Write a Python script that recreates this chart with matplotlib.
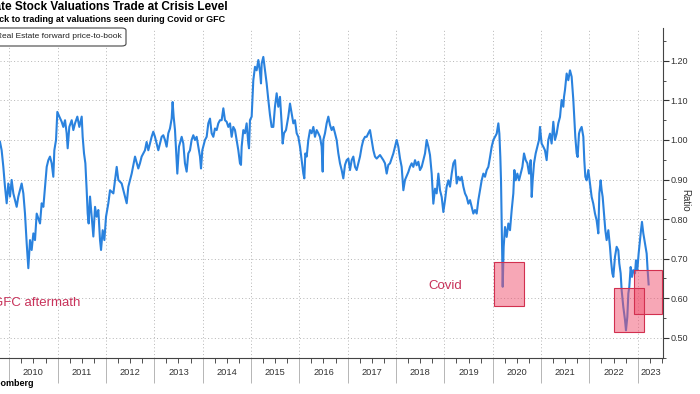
import matplotlib
matplotlib.use('Agg')
import matplotlib.pyplot as plt
from matplotlib.patches import Rectangle, FancyBboxPatch
from matplotlib.ticker import MultipleLocator, FixedLocator
import matplotlib.transforms as mtransforms

plt.rcParams['font.family'] = ['Liberation Sans', 'DejaVu Sans']

# Real Estate forward price-to-book (decimal year, ratio)
years = [
    2009.808, 2009.842, 2009.877, 2009.911, 2009.946, 2009.980, 2010.015, 2010.049, 2010.084, 2010.153,
    2010.187, 2010.256, 2010.291, 2010.325, 2010.360, 2010.394, 2010.429, 2010.463, 2010.498, 2010.532,
    2010.567, 2010.636, 2010.670, 2010.705, 2010.739, 2010.774, 2010.808, 2010.842, 2010.877, 2010.911,
    2010.932, 2010.967, 2010.994, 2011.036, 2011.084, 2011.118, 2011.153, 2011.187, 2011.208, 2011.242,
    2011.291, 2011.325, 2011.360, 2011.408, 2011.449, 2011.498, 2011.518, 2011.546, 2011.574, 2011.601,
    2011.622, 2011.642, 2011.670, 2011.705, 2011.739, 2011.774, 2011.808, 2011.842, 2011.877, 2011.898,
    2011.932, 2011.967, 2012.001, 2012.049, 2012.084, 2012.153, 2012.222, 2012.256, 2012.325, 2012.394,
    2012.429, 2012.463, 2012.532, 2012.601, 2012.669, 2012.703, 2012.738, 2012.807, 2012.841, 2012.876,
    2012.945, 2012.979, 2013.014, 2013.083, 2013.117, 2013.152, 2013.186, 2013.221, 2013.255, 2013.290,
    2013.324, 2013.359, 2013.379, 2013.400, 2013.428, 2013.462, 2013.476, 2013.510, 2013.566, 2013.600,
    2013.634, 2013.669, 2013.703, 2013.738, 2013.772, 2013.807, 2013.841, 2013.876, 2013.910, 2013.945,
    2013.966, 2013.993, 2014.048, 2014.083, 2014.117, 2014.152, 2014.186, 2014.221, 2014.255, 2014.290,
    2014.324, 2014.359, 2014.393, 2014.428, 2014.462, 2014.497, 2014.531, 2014.566, 2014.600, 2014.634,
    2014.669, 2014.703, 2014.738, 2014.772, 2014.793, 2014.807, 2014.841, 2014.876, 2014.910, 2014.945,
    2014.959, 2014.979, 2015.014, 2015.048, 2015.083, 2015.117, 2015.152, 2015.186, 2015.207, 2015.221,
    2015.255, 2015.290, 2015.324, 2015.359, 2015.393, 2015.427, 2015.462, 2015.496, 2015.531, 2015.565,
    2015.600, 2015.634, 2015.655, 2015.683, 2015.724, 2015.772, 2015.807, 2015.841, 2015.876, 2015.910,
    2015.945, 2015.979, 2016.014, 2016.048, 2016.083, 2016.103, 2016.124, 2016.152, 2016.186, 2016.221,
    2016.255, 2016.290, 2016.324, 2016.359, 2016.393, 2016.427, 2016.462, 2016.483, 2016.496, 2016.531,
    2016.565, 2016.600, 2016.634, 2016.669, 2016.703, 2016.738, 2016.772, 2016.807, 2016.841, 2016.876,
    2016.910, 2016.945, 2016.979, 2017.014, 2017.048, 2017.083, 2017.117, 2017.152, 2017.186, 2017.221,
    2017.255, 2017.290, 2017.324, 2017.359, 2017.393, 2017.427, 2017.462, 2017.496, 2017.531, 2017.565,
    2017.600, 2017.669, 2017.738, 2017.772, 2017.807, 2017.841, 2017.876, 2017.910, 2017.945, 2017.979,
    2018.014, 2018.048, 2018.083, 2018.117, 2018.152, 2018.186, 2018.255, 2018.289, 2018.324, 2018.358,
    2018.393, 2018.427, 2018.462, 2018.496, 2018.531, 2018.565, 2018.600, 2018.634, 2018.669, 2018.703,
    2018.738, 2018.772, 2018.807, 2018.841, 2018.876, 2018.910, 2018.945, 2018.979, 2019.014, 2019.048,
    2019.083, 2019.117, 2019.152, 2019.186, 2019.221, 2019.255, 2019.289, 2019.324, 2019.358, 2019.393,
    2019.427, 2019.462, 2019.496, 2019.531, 2019.565, 2019.600, 2019.634, 2019.669, 2019.703, 2019.738,
    2019.772, 2019.807, 2019.841, 2019.876, 2019.910, 2019.945, 2019.979, 2020.014, 2020.048, 2020.083,
    2020.117, 2020.138, 2020.158, 2020.172, 2020.186, 2020.207, 2020.227, 2020.255, 2020.289, 2020.324,
    2020.358, 2020.393, 2020.427, 2020.448, 2020.476, 2020.510, 2020.545, 2020.579, 2020.614, 2020.648,
    2020.683, 2020.717, 2020.752, 2020.786, 2020.807, 2020.827, 2020.855, 2020.889, 2020.924, 2020.958,
    2020.979, 2021.012, 2021.047, 2021.081, 2021.116, 2021.150, 2021.185, 2021.219, 2021.254, 2021.288,
    2021.323, 2021.357, 2021.392, 2021.426, 2021.461, 2021.475, 2021.495, 2021.530, 2021.564, 2021.599,
    2021.633, 2021.668, 2021.688, 2021.709, 2021.737, 2021.757, 2021.785, 2021.806, 2021.840, 2021.875,
    2021.895, 2021.916, 2021.944, 2021.978, 2022.012, 2022.047, 2022.081, 2022.116, 2022.150, 2022.185,
    2022.206, 2022.233, 2022.254, 2022.275, 2022.302, 2022.330, 2022.357, 2022.392, 2022.426, 2022.447,
    2022.475, 2022.495, 2022.530, 2022.564, 2022.599, 2022.619, 2022.647, 2022.668, 2022.702, 2022.737,
    2022.757, 2022.785, 2022.806, 2022.826, 2022.854, 2022.882, 2022.909, 2022.944, 2022.964, 2022.992,
    2023.019, 2023.047, 2023.068, 2023.088, 2023.116, 2023.150, 2023.185, 2023.205, 2023.226,
]
ratio = [
    0.995, 0.974, 0.932, 0.882, 0.840, 0.890, 0.857, 0.899, 0.865, 0.831,
    0.857, 0.890, 0.865, 0.814, 0.739, 0.676, 0.747, 0.722, 0.764, 0.747,
    0.814, 0.789, 0.840, 0.831, 0.882, 0.932, 0.949, 0.958, 0.941, 0.907,
    0.974, 1.000, 1.071, 1.059, 1.046, 1.033, 1.050, 1.017, 0.979, 1.033,
    1.050, 1.025, 1.042, 1.059, 1.033, 1.059, 1.008, 0.966, 0.941, 0.873,
    0.814, 0.789, 0.857, 0.806, 0.756, 0.831, 0.806, 0.823, 0.747, 0.722,
    0.772, 0.747, 0.806, 0.840, 0.873, 0.865, 0.932, 0.899, 0.890, 0.857,
    0.840, 0.882, 0.915, 0.958, 0.928, 0.941, 0.958, 0.974, 0.995, 0.974,
    1.008, 1.021, 1.008, 0.974, 0.991, 1.008, 1.012, 1.000, 0.983, 1.017,
    1.029, 1.054, 1.096, 1.059, 1.025, 0.949, 0.915, 0.983, 1.008, 0.991,
    0.941, 0.920, 0.966, 0.974, 1.000, 1.012, 1.000, 1.008, 0.983, 0.958,
    0.928, 0.974, 1.000, 1.008, 1.042, 1.054, 1.017, 1.008, 1.029, 1.025,
    1.042, 1.050, 1.050, 1.080, 1.050, 1.046, 1.033, 1.042, 1.008, 1.033,
    1.025, 1.000, 0.974, 0.941, 0.937, 0.983, 1.025, 1.017, 1.042, 0.991,
    0.979, 1.050, 1.059, 1.151, 1.185, 1.176, 1.202, 1.172, 1.143, 1.193,
    1.210, 1.176, 1.143, 1.101, 1.063, 1.033, 1.033, 1.084, 1.118, 1.084,
    1.109, 1.042, 0.991, 1.017, 1.025, 1.059, 1.092, 1.067, 1.042, 1.050,
    1.017, 1.008, 0.983, 0.949, 0.915, 0.903, 0.966, 0.958, 1.000, 1.025,
    1.017, 1.033, 1.008, 1.025, 1.017, 1.008, 0.983, 0.920, 1.000, 1.017,
    1.042, 1.059, 1.038, 1.025, 1.033, 1.017, 1.000, 0.966, 0.941, 0.924,
    0.903, 0.937, 0.949, 0.953, 0.924, 0.949, 0.958, 0.932, 0.924, 0.941,
    0.958, 0.983, 1.000, 1.008, 1.008, 1.017, 1.025, 1.000, 0.974, 0.958,
    0.953, 0.962, 0.949, 0.941, 0.915, 0.937, 0.941, 0.953, 0.966, 0.983,
    1.000, 0.983, 0.953, 0.932, 0.873, 0.899, 0.919, 0.932, 0.941, 0.932,
    0.949, 0.936, 0.945, 0.924, 0.932, 0.949, 0.966, 1.000, 0.983, 0.962,
    0.915, 0.839, 0.877, 0.865, 0.915, 0.873, 0.856, 0.818, 0.848, 0.882,
    0.898, 0.882, 0.915, 0.941, 0.949, 0.890, 0.907, 0.898, 0.907, 0.882,
    0.865, 0.856, 0.839, 0.848, 0.831, 0.814, 0.823, 0.814, 0.848, 0.873,
    0.898, 0.915, 0.907, 0.924, 0.932, 0.957, 0.983, 1.000, 1.008, 1.016,
    1.042, 1.016, 0.957, 0.898, 0.789, 0.629, 0.730, 0.780, 0.755, 0.789,
    0.772, 0.823, 0.865, 0.924, 0.898, 0.915, 0.898, 0.915, 0.932, 0.966,
    0.949, 0.941, 0.915, 0.949, 0.856, 0.898, 0.941, 0.966, 0.983, 1.000,
    1.033, 0.991, 0.983, 0.974, 0.949, 1.000, 1.016, 0.991, 1.046, 1.000,
    1.016, 1.042, 1.058, 1.101, 1.084, 1.109, 1.126, 1.168, 1.151, 1.176,
    1.160, 1.101, 1.058, 1.008, 0.966, 0.957, 1.016, 1.025, 1.033, 1.008,
    0.949, 0.907, 0.898, 0.924, 0.890, 0.856, 0.839, 0.814, 0.797, 0.764,
    0.865, 0.898, 0.873, 0.856, 0.814, 0.772, 0.747, 0.772, 0.730, 0.696,
    0.663, 0.654, 0.705, 0.730, 0.721, 0.688, 0.663, 0.620, 0.578, 0.545,
    0.519, 0.553, 0.612, 0.629, 0.679, 0.654, 0.671, 0.663, 0.696, 0.671,
    0.713, 0.747, 0.772, 0.793, 0.764, 0.738, 0.713, 0.671, 0.635,
]

# highlighted crisis windows: (start, end, low, high)
covid_box = (2020.026, 2020.647, 0.581, 0.692)
low_2022_box = (2022.509, 2023.130, 0.515, 0.626)
now_2023_box = (2022.923, 2023.502, 0.560, 0.671)

year_ticks = list(range(2010, 2024))
x_min, x_max = 2009.808, 2023.523
y_min, y_max = 0.449, 1.283

blue = '#2a82de'
crimson = '#c8325a'
grey = '#333333'

fig = plt.figure(figsize=(7, 3.94), dpi=100)
ax = fig.add_axes([0.0, 36 / 394, 663 / 700, 330 / 394])

ax.plot(years, ratio, color=blue, linewidth=1.5, zorder=3)

for x0, x1, y0, y1 in [covid_box, low_2022_box, now_2023_box]:
    ax.add_patch(Rectangle((x0, y0), x1 - x0, y1 - y0, facecolor='#f0506e', alpha=0.5,
                           edgecolor='none', zorder=4))
    ax.add_patch(Rectangle((x0, y0), x1 - x0, y1 - y0, facecolor='none',
                           edgecolor='#d2304f', linewidth=0.8, zorder=5))

ax.text(2019.01, 0.631, 'Covid', color=crimson, fontsize=9.5, ha='center', va='center')
ax.text(2011.463, 0.588, 'GFC aftermath', color=crimson, fontsize=9.5, ha='right', va='center')

ax.set_xlim(x_min, x_max)
ax.set_ylim(y_min, y_max)

# axes styling
for s in ['left', 'top']:
    ax.spines[s].set_visible(False)
ax.spines['right'].set_color('#444444')
ax.spines['bottom'].set_color('#444444')
ax.spines['right'].set_linewidth(0.8)
ax.spines['bottom'].set_linewidth(0.8)

ax.yaxis.tick_right()
ax.yaxis.set_major_locator(MultipleLocator(0.1))
ax.yaxis.set_minor_locator(MultipleLocator(0.05))
ax.yaxis.set_major_formatter(lambda v, p: f'{v:.2f}')
ax.tick_params(axis='y', which='major', length=4, width=0.8, color=grey, labelsize=6.5,
               labelcolor=grey, pad=1.5)
ax.tick_params(axis='y', which='minor', length=2, width=0.6, color=grey)

ax.xaxis.set_major_locator(FixedLocator(year_ticks))
ax.xaxis.set_minor_locator(FixedLocator([y + q / 4 for y in range(2009, 2024) for q in (1, 2, 3)]))
ax.tick_params(axis='x', which='major', length=18, width=0.6, color='#aaaaaa', labelbottom=False)
ax.tick_params(axis='x', which='minor', length=3.5, width=0.6, color=grey)

ax.grid(which='major', axis='both', color='#b5b5b5', linestyle=(0, (1, 2.5)), linewidth=0.7)
ax.set_axisbelow(True)

# year labels in the middle of each year
trans = mtransforms.blended_transform_factory(ax.transData, ax.transAxes)
for y in year_ticks:
    mid = min(y + 0.5, (y + x_max) / 2)
    ax.text(mid, -0.045, str(y), transform=trans, ha='center', va='center',
            fontsize=6.7, color=grey)

ax.set_ylabel('Ratio', rotation=270, fontsize=7, color=grey)
ax.yaxis.set_label_position('right')
ax.yaxis.set_label_coords(1.041, 0.479)

# titles (left part falls off the canvas, like the reference crop)
fig.text(228 / 700, 1 - 7.5 / 394, 'Real Estate Stock Valuations Trade at Crisis Level',
         ha='right', va='center', fontsize=8.5, fontweight='bold', color='black')
fig.text(225 / 700, 1 - 19 / 394, 'Sector is back to trading at valuations seen during Covid or GFC',
         ha='right', va='center', fontsize=6.5, fontweight='bold', color='black')

# legend box
fig.patches.append(FancyBboxPatch((-20 / 700, 1 - 46 / 394), 146 / 700, 18 / 394,
                                  boxstyle='round,pad=0,rounding_size=0.006',
                                  transform=fig.transFigure, facecolor='white',
                                  edgecolor='#444444', linewidth=0.8, zorder=10))
fig.text(122 / 700, 1 - 37 / 394, 'Real Estate forward price-to-book', ha='right', va='center',
         fontsize=6, color='#222222', zorder=11)

fig.text(34 / 700, 1 - 383 / 394, 'Source: Bloomberg', ha='right', va='center',
         fontsize=6.5, fontweight='bold', color='black')

fig.savefig('out.png', dpi=100)
